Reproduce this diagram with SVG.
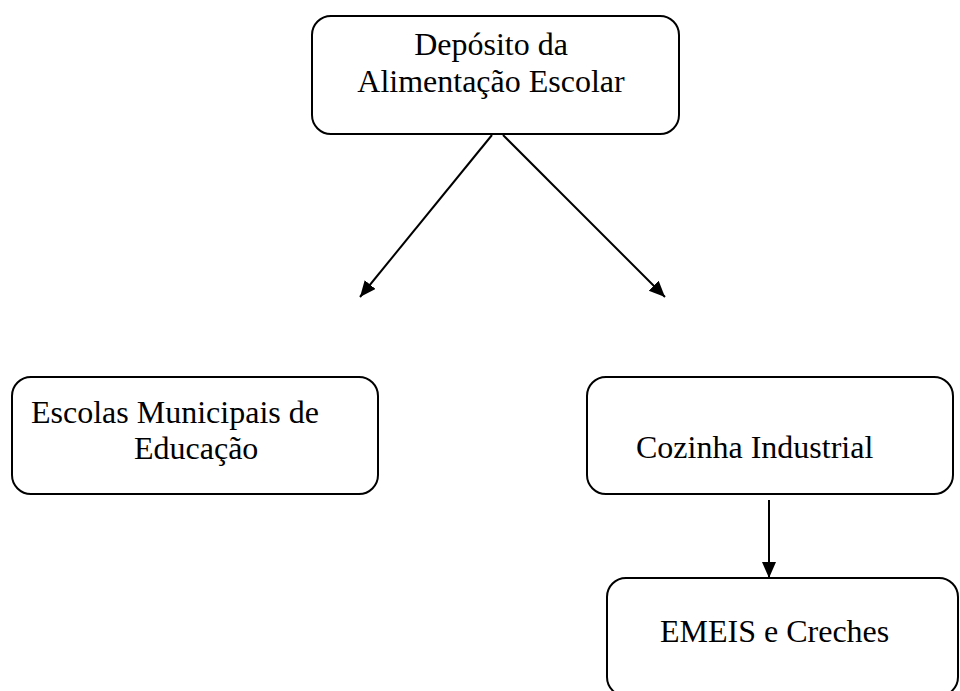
<svg xmlns="http://www.w3.org/2000/svg" width="960" height="691" viewBox="0 0 960 691">
<style>
.box{fill:#fff;stroke:#000;stroke-width:2}
.t{font-family:"Liberation Serif","Times New Roman",serif;font-size:32px;fill:#000}
.c{stroke:#000;stroke-width:2;fill:none}
</style>
<defs>
<marker id="ah" markerUnits="userSpaceOnUse" markerWidth="17" markerHeight="15" refX="16" refY="7" orient="auto" viewBox="0 0 17 15">
<path d="M0,0 L16,7 L0,14 z" fill="#000"/>
</marker>
</defs>
<rect width="960" height="691" fill="#fff"/>
<g id="connectors">
<line class="c" x1="492" y1="135" x2="360" y2="297" marker-end="url(#ah)"/>
<line class="c" x1="503" y1="135" x2="665" y2="297" marker-end="url(#ah)"/>
<line class="c" x1="769" y1="500" x2="769" y2="578" marker-end="url(#ah)"/>
</g>
<g id="deposito">
<rect class="box" x="312" y="16" width="367" height="118" rx="19"/>
<text class="t" x="491" y="55" text-anchor="middle">Depósito da</text>
<text class="t" x="491" y="92" text-anchor="middle">Alimentação Escolar</text>
</g>
<g id="escolas">
<rect class="box" x="12" y="377" width="366" height="117" rx="19"/>
<text class="t" x="31" y="423">Escolas Municipais de</text>
<text class="t" x="134" y="459">Educação</text>
</g>
<g id="cozinha">
<rect class="box" x="587" y="377" width="366" height="117" rx="19"/>
<text class="t" x="636" y="458">Cozinha Industrial</text>
</g>
<g id="emeis">
<rect class="box" x="607" y="578" width="351" height="118" rx="19"/>
<text class="t" x="660" y="642">EMEIS e Creches</text>
</g>
</svg>
